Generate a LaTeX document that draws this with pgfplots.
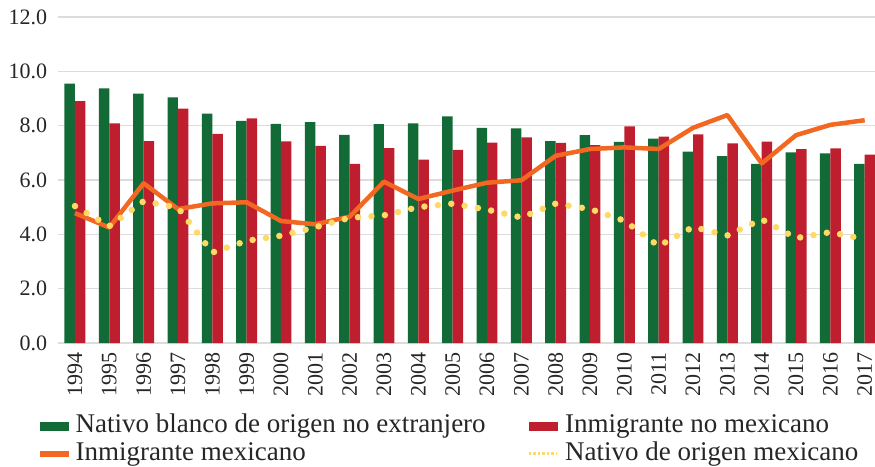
\documentclass[border=0pt]{standalone}
\usepackage{pgfplots}
\pgfplotsset{compat=1.18}
\usepackage{fontspec}
\setmainfont{Liberation Serif}
\definecolor{cgreen}{HTML}{126A36}
\definecolor{cred}{HTML}{BE1E2D}
\definecolor{corange}{HTML}{F26822}
\definecolor{cyellow}{HTML}{FFD966}
\definecolor{cgrid}{HTML}{DCDCDC}
\definecolor{ctext}{HTML}{262626}
\pgfplotstableread{
x green red orange yellow
0 9.55 8.90 4.78 5.04
1 9.37 8.08 4.25 4.30
2 9.18 7.43 5.88 5.22
3 9.04 8.63 4.93 4.98
4 8.44 7.70 5.14 3.33
5 8.18 8.27 5.18 3.76
6 8.07 7.42 4.49 3.95
7 8.13 7.26 4.37 4.26
8 7.66 6.59 4.65 4.61
9 8.06 7.17 5.94 4.70
10 8.08 6.75 5.30 5.00
11 8.34 7.11 5.61 5.13
12 7.92 7.38 5.90 4.91
13 7.90 7.57 5.99 4.62
14 7.43 7.37 6.89 5.13
15 7.65 7.28 7.14 4.93
16 7.40 7.97 7.20 4.50
17 7.52 7.60 7.14 3.57
18 7.04 7.68 7.92 4.27
19 6.88 7.35 8.39 3.96
20 6.59 7.41 6.61 4.55
21 7.02 7.14 7.65 3.86
22 6.98 7.16 8.03 4.08
23 6.59 6.93 8.20 3.82
}\datatable
\begin{document}
\begin{tikzpicture}[x=1pt,y=1pt]
\begin{axis}[
  name=ax, at={(0,0)}, anchor=south west,
  scale only axis, width=817.2pt, height=326pt,
  xmin=-0.5, xmax=23.30, ymin=0, ymax=12,
  ytick={0,2,...,12},
  xtick={0,...,23},
  xticklabels={1994,1995,1996,1997,1998,1999,2000,2001,2002,2003,2004,2005,2006,2007,2008,2009,2010,2011,2012,2013,2014,2015,2016,2017},
  x tick label style={rotate=90, anchor=east, inner sep=0pt, font=\fontsize{22}{24}\selectfont, text=ctext},
  xticklabel shift=9pt,
  y tick label style={inner sep=0pt, font=\fontsize{22}{24}\selectfont, text=ctext, /pgf/number format/fixed, /pgf/number format/fixed zerofill, /pgf/number format/precision=1},
  yticklabel shift=10.5pt,
  /pgf/number format/assume math mode=true,
  major tick length=0pt,
  axis line style={draw=none},
  ymajorgrids, grid style={cgrid, line width=1.4pt},
  clip=true,
  legend columns=2,
  legend style={at={(-17.8pt,-70pt)}, anchor=north west, draw=none, fill=none,
    font=\fontsize{27}{29}\selectfont, text=ctext, inner sep=0pt,
    nodes={inner sep=0pt, text height=19pt, text depth=6pt},
    /tikz/every odd column/.append style={column sep=7pt},
    /tikz/every even column/.append style={column sep=42pt},
    row sep=3pt,
    legend cell align=left},
]
\addplot[ybar, bar width=0.305, bar shift=-0.1525, fill=cgreen, draw=none, forget plot] table[x=x,y=green]{\datatable};
\addplot[ybar, bar width=0.305, bar shift=0.1525, fill=cred, draw=none, forget plot] table[x=x,y=red]{\datatable};
\addplot[corange, line width=4.5pt, line join=round, forget plot] table[x=x,y=orange]{\datatable};
\addplot[cyellow, line width=6.5pt, line cap=round, dash pattern=on 0pt off 13.5pt, forget plot] table[x=x,y=yellow]{\datatable};
\addlegendimage{legend image code/.code={\fill[cgreen] (0pt,-4pt) rectangle (28pt,4pt);}}
\addlegendentry{Nativo blanco de origen no extranjero}
\addlegendimage{legend image code/.code={\fill[cred] (0pt,-4pt) rectangle (28pt,4pt);}}
\addlegendentry{Inmigrante no mexicano}
\addlegendimage{legend image code/.code={\fill[corange] (0pt,-2.2pt) rectangle (28pt,2.2pt);}}
\addlegendentry{Inmigrante mexicano}
\addlegendimage{legend image code/.code={\draw[cyellow, line width=2.5pt, dash pattern=on 2.5pt off 2pt] (0pt,0pt) -- (28pt,0pt);}}
\addlegendentry{Nativo de origen mexicano}
\end{axis}
\pgfresetboundingbox
\path[use as bounding box] (-57.8,-123) rectangle (817.2,343);
\end{tikzpicture}
\end{document}
